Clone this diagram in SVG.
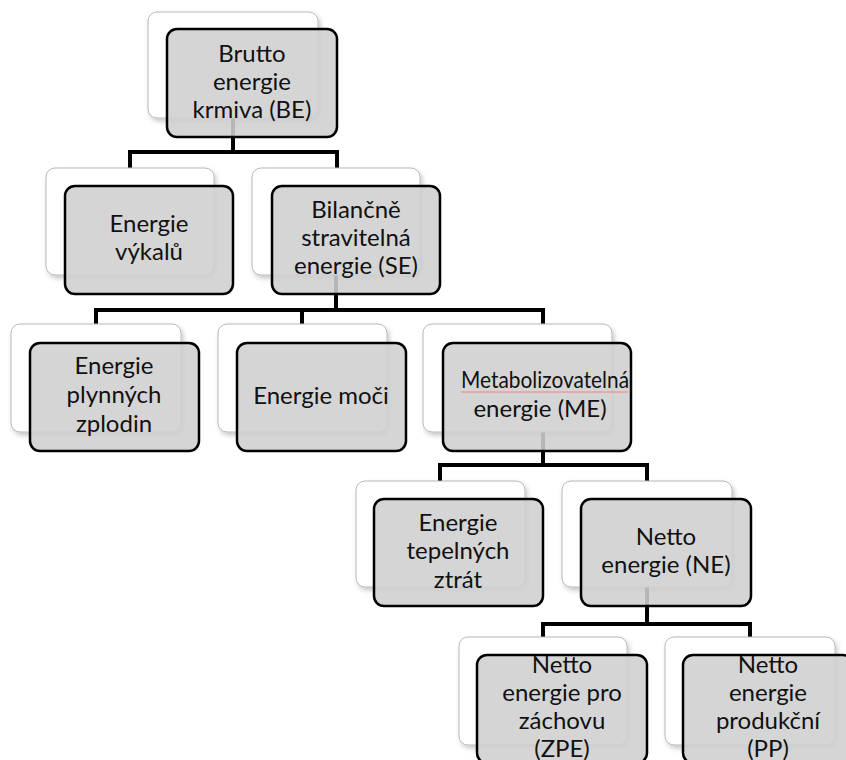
<svg xmlns="http://www.w3.org/2000/svg" width="846" height="760" viewBox="0 0 846 760">
<defs>
<filter id="sh" x="-10%" y="-10%" width="125%" height="130%">
<feDropShadow dx="2" dy="3" stdDeviation="2.5" flood-color="#000" flood-opacity="0.22"/>
</filter>
</defs>
<style>
.back{fill:#ffffff;stroke:#b8b8b8;stroke-width:1;filter:url(#sh)}
.front{fill:#cfcfcf;fill-opacity:0.88;stroke:#000;stroke-width:2.5}
.lbl{font-family:Lato,"Liberation Sans",sans-serif;font-size:24px;fill:#111;text-anchor:middle}
.con{fill:none;stroke:#000;stroke-width:4;stroke-linejoin:miter;stroke-linecap:butt}
</style>
<rect width="846" height="760" fill="#fff"/>
<g id="connectors">
<path class="con" d="M233,118 V152 M130,168 V152 H337 V168"/>
<path class="con" d="M336,275 V310 M96,324 V310 H543 V324 M302,310 V324"/>
<path class="con" d="M543,432 V465 M440,481 V465 H647 V481"/>
<path class="con" d="M647,587 V624 M543,637 V624 H750 V637"/>
</g>
<g id="node-be">
<rect class="back" x="148" y="12" width="170" height="106" rx="9"/>
<rect class="front" x="167" y="29" width="170" height="108" rx="10"/>
<text class="lbl" x="252" y="62">Brutto</text>
<text class="lbl" x="252" y="90">energie</text>
<text class="lbl" x="252" y="118">krmiva (BE)</text>
</g>
<g id="node-vykaly">
<rect class="back" x="46" y="168" width="168" height="107" rx="9"/>
<rect class="front" x="65" y="186" width="168" height="108" rx="10"/>
<text class="lbl" x="149" y="232">Energie</text>
<text class="lbl" x="149" y="260">výkalů</text>
</g>
<g id="node-se">
<rect class="back" x="252" y="168" width="168" height="107" rx="9"/>
<rect class="front" x="272" y="186" width="168" height="108" rx="10"/>
<text class="lbl" x="356" y="218">Bilančně</text>
<text class="lbl" x="356" y="246">stravitelná</text>
<text class="lbl" x="356" y="274">energie (SE)</text>
</g>
<g id="node-plyny">
<rect class="back" x="11" y="324" width="170" height="108" rx="9"/>
<rect class="front" x="30" y="343" width="169" height="108" rx="10"/>
<text class="lbl" x="114" y="374">Energie</text>
<text class="lbl" x="114" y="403">plynných</text>
<text class="lbl" x="114" y="432">zplodin</text>
</g>
<g id="node-moc">
<rect class="back" x="218" y="324" width="169" height="108" rx="9"/>
<rect class="front" x="237" y="343" width="169" height="108" rx="10"/>
<text class="lbl" x="321" y="404">Energie moči</text>
</g>
<g id="node-me">
<rect class="back" x="423" y="324" width="189" height="108" rx="9"/>
<rect class="front" x="443" y="343" width="188" height="108" rx="10"/>
<text class="lbl" x="545" y="388" textLength="168" lengthAdjust="spacingAndGlyphs">Metabolizovatelná</text>
<path d="M461,392 H628" stroke="#f08080" stroke-width="1" fill="none"/>
<text class="lbl" x="540" y="417">energie (ME)</text>
</g>
<g id="node-teplo">
<rect class="back" x="356" y="481" width="169" height="106" rx="9"/>
<rect class="front" x="374" y="499" width="169" height="107" rx="10"/>
<text class="lbl" x="458" y="531">Energie</text>
<text class="lbl" x="458" y="559">tepelných</text>
<text class="lbl" x="458" y="588">ztrát</text>
</g>
<g id="node-ne">
<rect class="back" x="562" y="481" width="170" height="106" rx="9"/>
<rect class="front" x="581" y="499" width="170" height="107" rx="10"/>
<text class="lbl" x="666" y="545">Netto</text>
<text class="lbl" x="666" y="573">energie (NE)</text>
</g>
<g id="node-zpe">
<rect class="back" x="459" y="637" width="168" height="108" rx="9"/>
<rect class="front" x="477" y="655" width="170" height="108" rx="10"/>
<text class="lbl" x="562" y="673">Netto</text>
<text class="lbl" x="562" y="701">energie pro</text>
<text class="lbl" x="562" y="729">záchovu</text>
<text class="lbl" x="562" y="757">(ZPE)</text>
</g>
<g id="node-pp">
<rect class="back" x="665" y="637" width="170" height="108" rx="9"/>
<rect class="front" x="683" y="655" width="170" height="108" rx="10"/>
<text class="lbl" x="768" y="673">Netto</text>
<text class="lbl" x="768" y="701">energie</text>
<text class="lbl" x="768" y="729">produkční</text>
<text class="lbl" x="768" y="757">(PP)</text>
</g>
</svg>
